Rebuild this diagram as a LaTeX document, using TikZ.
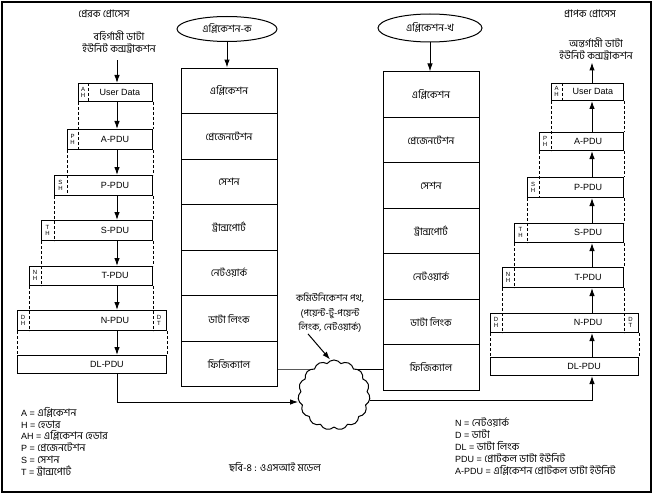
\documentclass[tikz,border=0pt]{standalone}
\usepackage{fontspec}
\setmainfont{Liberation Sans}
\newfontfamily\bn[Script=Bengali,Scale=1.15]{Hind Siliguri}
\usetikzlibrary{shapes.geometric,shapes.symbols,arrows.meta,backgrounds}
\begin{document}
\begin{tikzpicture}[x=1pt,y=-1pt,
  box/.style={draw,line width=1pt,inner sep=0pt,anchor=north west},
  dsh/.style={line width=1pt,dash pattern=on 3pt off 2pt},
  arr/.style={line width=1pt,-{Latex[length=8pt,width=5.5pt]}},
  lay/.style={draw,line width=1pt,minimum width=96pt,minimum height=45.5pt,inner sep=0pt,font=\bn\fontsize{8.8}{10}\selectfont},
  hdr/.style={font=\fontsize{6}{6}\selectfont,align=center,inner sep=0pt},
  pl/.style={font=\fontsize{9}{10}\selectfont,inner sep=0pt},
  bt/.style={font=\bn\fontsize{9}{12}\selectfont,align=center,inner sep=0pt},
  ell/.style={ellipse,draw,line width=1pt,inner sep=0pt,font=\bn\fontsize{8.8}{10}\selectfont},
  leg/.style={anchor=north west,align=left,inner sep=0pt,font=\fontsize{9}{11.8}\selectfont}]
\useasboundingbox (0,0) rectangle (654,495);
\draw[line width=1.1pt] (2,2) rectangle (651,492);

% ---- middle stacks ----
\node[ell,minimum width=100pt,minimum height=25pt] (ek) at (227,29) {এপ্লিকেশন-ক};
\node[ell,minimum width=104pt,minimum height=28pt] (ekh) at (430,28) {এপ্লিকেশন-খ};
\foreach \t [count=\i] in {এপ্লিকেশন,প্রেজেনটেশন,সেশন,ট্রান্সপোর্ট,নেটওয়ার্ক,ডাটা লিংক,ফিজিক্যাল}{
  \node[lay] (L\i) at (229,{68+45.57*(\i-0.5)}) {\t};
  \node[lay] (R\i) at (431,{72+45.43*(\i-0.5)}) {\t};
}
\draw[arr] (ek.south) -- (ek.south |- L1.north);
\draw[arr] (ekh.south) -- (ekh.south |- R1.north);

% ---- cloud ----
\node[cloud,draw,fill=white,line width=1pt,cloud puffs=15,cloud puff arc=110,aspect=1.05,minimum width=72pt,minimum height=70pt] (cloud) at (334,395) {};
\coordinate (hy) at (0,369);
\begin{scope}[on background layer]
\draw[line width=1pt] (L7.east |- hy) -- (cloud.center |- hy) -- (R7.west |- hy);
\end{scope}
\node[bt,font=\bn\fontsize{8.4}{14.5}\selectfont] (ctext) at (330,313) {কমিউনিকেশন পথ,\\(পয়েন্ট-টু-পয়েন্ট\\লিংক, নেটওয়ার্ক)};
\draw[arr] ([xshift=-22pt,yshift=-1pt]ctext.south) -- ([xshift=-4pt]cloud.north);

% ---- left (sender) ----
\node[bt] (lproc) at (104,14) {প্রেরক প্রোসেস};
\node[bt] (lout) at (119,42) {বহির্গামী ডাটা\\ইউনিট কন্সট্রাকশন};
\node[box,minimum width=74pt,minimum height=18pt] (lud) at (78,83) {};
\node[box,minimum width=85pt,minimum height=20pt] (la) at (67,129) {};
\node[box,minimum width=98pt,minimum height=20pt] (lp) at (54,175) {};
\node[box,minimum width=111pt,minimum height=20pt] (ls) at (41,220) {};
\node[box,minimum width=123pt,minimum height=19pt] (lt) at (29,266) {};
\node[box,minimum width=149pt,minimum height=20pt] (ln) at (17,310) {};
\node[box,minimum width=149pt,minimum height=18pt] (ldl) at (17,355) {};
\node[pl] (ludt) at (120,92) {User Data};
\node[pl] (lat) at (115,139) {A-PDU};
\node[pl] (lpt) at (115,185) {P-PDU};
\node[pl] (lst) at (115,230) {S-PDU};
\node[pl] (ltt) at (115,275.5) {T-PDU};
\node[pl] (lnt) at (115,320) {N-PDU};
\node[pl] (ldlt) at (107,364) {DL-PDU};
\node[hdr] (lah) at (83,92) {A\\H};
\node[hdr] (lph) at (72.5,139) {P\\H};
\node[hdr] (lsh) at (60.5,185) {S\\H};
\node[hdr] (lth) at (47.5,230) {T\\H};
\node[hdr] (lnh) at (35,275.5) {N\\H};
\node[hdr] (ldh) at (23,320) {D\\H};
\node[hdr] (ldt) at (159,320) {D\\T};
\draw[dsh] ([xshift=10pt]lud.north west) -- ([xshift=10pt]lud.south west);
\draw[dsh] (lud.south west) -- (lud.south west |- la.south);
\draw[dsh] (la.south west) -- (la.south west |- lp.south);
\draw[dsh] (lp.south west) -- (lp.south west |- ls.south);
\draw[dsh] (ls.south west) -- (ls.south west |- lt.south);
\draw[dsh] (lt.south west) -- (lt.south west |- ln.south);
\draw[dsh] (ln.south west) -- (ln.south west |- ldl.north);
\draw[dsh] (lud.south east) -- (lud.south east |- la.north);
\draw[dsh] (la.south east) -- (la.south east |- lp.north);
\draw[dsh] (lp.south east) -- (lp.south east |- ls.north);
\draw[dsh] (ls.south east) -- (ls.south east |- lt.north);
\draw[dsh] (lt.south east) -- (lt.south east |- ln.south);
\draw[dsh] (ln.south east) -- (ln.south east |- ldl.north);
\coordinate (cl) at (117,0);
\draw[arr,shorten <=7pt] (lout.south -| cl) -- (lud.north -| cl);
\draw[arr] (lud.south -| cl) -- (la.north -| cl);
\draw[arr] (la.south -| cl) -- (lp.north -| cl);
\draw[arr] (lp.south -| cl) -- (ls.north -| cl);
\draw[arr] (ls.south -| cl) -- (lt.north -| cl);
\draw[arr] (lt.south -| cl) -- (ln.north -| cl);
\draw[arr] (ln.south -| cl) -- (ldl.north -| cl);
\coordinate (lb) at (117,402);
\draw[arr] (ldl.south -| cl) -- (lb) -- (lb -| cloud.west);

% ---- right (receiver) ----
\node[bt] (rproc) at (590,14) {প্রাপক প্রোসেস};
\node[bt] (rin) at (596,49) {অন্তর্গামী ডাটা\\ইউনিট কন্সট্রাকশন};
\node[box,minimum width=72pt,minimum height=17pt] (rud) at (551,83) {};
\node[box,minimum width=84pt,minimum height=18pt] (ra) at (539,132) {};
\node[box,minimum width=96pt,minimum height=20pt] (rp) at (527,177) {};
\node[box,minimum width=109pt,minimum height=19pt] (rs) at (514,223) {};
\node[box,minimum width=121pt,minimum height=20pt] (rt) at (502,267) {};
\node[box,minimum width=148pt,minimum height=19pt] (rn) at (490,313) {};
\node[box,minimum width=148pt,minimum height=18pt] (rdl) at (490,357) {};
\node[pl] (rudt) at (593,91.5) {User Data};
\node[pl] (rat) at (588,141) {A-PDU};
\node[pl] (rpt) at (588,187) {P-PDU};
\node[pl] (rst) at (588,232.5) {S-PDU};
\node[pl] (rtt) at (588,277) {T-PDU};
\node[pl] (rnt) at (588,322.5) {N-PDU};
\node[pl] (rdlt) at (584,366) {DL-PDU};
\node[hdr] (rah) at (556.5,91.5) {A\\H};
\node[hdr] (rph) at (545,141) {P\\H};
\node[hdr] (rsh) at (533,187) {S\\H};
\node[hdr] (rth) at (520.5,232.5) {T\\H};
\node[hdr] (rnh) at (508,277) {N\\H};
\node[hdr] (rdh) at (496,322.5) {D\\H};
\node[hdr] (rdt) at (630.5,322.5) {D\\T};
\draw[dsh] ([xshift=11pt]rud.north west) -- ([xshift=11pt]rud.south west);
\draw[dsh] (rud.south west) -- (rud.south west |- ra.south);
\draw[dsh] (ra.south west) -- (ra.south west |- rp.south);
\draw[dsh] (rp.south west) -- (rp.south west |- rs.south);
\draw[dsh] (rs.south west) -- (rs.south west |- rt.south);
\draw[dsh] (rt.south west) -- (rt.south west |- rn.south);
\draw[dsh] (rn.south west) -- (rn.south west |- rdl.north);
\draw[dsh] (rud.south east) -- (rud.south east |- ra.north);
\draw[dsh] (ra.south east) -- (ra.south east |- rp.north);
\draw[dsh] (rp.south east) -- (rp.south east |- rs.north);
\draw[dsh] (rs.south east) -- (rs.south east |- rt.north);
\draw[dsh] (rt.south east) -- (rt.south east |- rn.south);
\draw[dsh] (rn.south east) -- (rn.south east |- rdl.north);
\coordinate (cr) at (592,0);
\draw[arr,shorten >=2pt] (rud.north -| cr) -- (rin.south -| cr);
\draw[arr] (ra.north -| cr) -- (rud.south -| cr);
\draw[arr] (rp.north -| cr) -- (ra.south -| cr);
\draw[arr] (rs.north -| cr) -- (rp.south -| cr);
\draw[arr] (rt.north -| cr) -- (rs.south -| cr);
\draw[arr] (rn.north -| cr) -- (rt.south -| cr);
\draw[arr] (rdl.north -| cr) -- (rn.south -| cr);
\coordinate (rb) at (592,400);
\draw[arr] (cloud.east |- rb) -- (rb) -- (rdl.south -| cr);

% ---- legends & caption ----
\node[leg] (legL) at (21,407) {A = {\bn এপ্লিকেশন}\\H = {\bn হেডার}\\AH = {\bn এপ্লিকেশন হেডার}\\P = {\bn প্রেজেনটেশন}\\S = {\bn সেশন}\\T = {\bn ট্রান্সপোর্ট}};
\node[leg] (legR) at (455,418) {N = {\bn নেটওয়ার্ক}\\D = {\bn ডাটা}\\DL = {\bn ডাটা লিংক}\\PDU = {\bn প্রোটকল ডাটা ইউনিট}\\A-PDU = {\bn এপ্লিকেশন প্রোটকল ডাটা ইউনিট}};
\node[bt] (cap) at (275,467) {ছবি-৪ : ওএসআই মডেল};
\end{tikzpicture}
\end{document}
